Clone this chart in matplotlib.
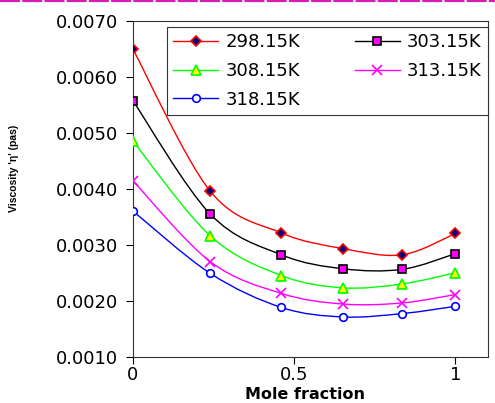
import numpy as np
import matplotlib
matplotlib.use("Agg")
import matplotlib.pyplot as plt
from matplotlib.path import Path
from matplotlib.patches import PathPatch
from matplotlib.lines import Line2D
from matplotlib.ticker import FormatStrFormatter
from matplotlib import font_manager

# ---- data ----
mole_fraction = [0.0, 0.239, 0.46, 0.652, 0.835, 1.0]
temps = ["298.15K", "303.15K", "308.15K", "313.15K", "318.15K"]
visc_298 = [0.00649, 0.00396, 0.00321, 0.00293, 0.00282, 0.00320]
visc_303 = [0.00557, 0.00355, 0.00282, 0.00257, 0.00256, 0.00284]
visc_308 = [0.00485, 0.00316, 0.00245, 0.00223, 0.00230, 0.00250]
visc_313 = [0.00414, 0.00270, 0.00213, 0.00194, 0.00196, 0.00211]
visc_318 = [0.00360, 0.00249, 0.00188, 0.00171, 0.00177, 0.00190]
y_ticks = [0.001, 0.002, 0.003, 0.004, 0.005, 0.006, 0.007]
x_ticks = [0, 0.5, 1]

series = [visc_298, visc_303, visc_308, visc_313, visc_318]
styles = [
    dict(color="#ff0000", marker="D", mfc="#000080", mec="#ff0000", ms=4.8),
    dict(color="#000000", marker="s", mfc="#ff00ff", mec="#000000", ms=5.5),
    dict(color="#00ff00", marker="^", mfc="#ffff00", mec="#00ff00", ms=6.5),
    dict(color="#ff00ff", marker="x", mfc="#ff00ff", mec="#ff00ff", ms=6.5),
    dict(color="#0000ff", marker="o", mfc="white", mec="#0000ff", ms=5.5),
]

plt.rcParams['font.family'] = ['DejaVu Sans']
avail = {f.name for f in font_manager.fontManager.ttflist}
narrow = 'Liberation Sans Narrow' if 'Liberation Sans Narrow' in avail else 'Liberation Sans'

fig = plt.figure(figsize=(4.95, 4.03), dpi=100)
ax = fig.add_axes([133/495, 1-356.7/403, (487.7-133)/495, (356.7-20.7)/403])


def smooth_path(xs, ys):
    P = np.column_stack([xs, ys])
    n = len(P)
    verts = [P[0]]
    codes = [Path.MOVETO]
    for i in range(n-1):
        p0 = P[i-1] if i > 0 else P[i]
        p1 = P[i]
        p2 = P[i+1]
        p3 = P[i+2] if i+2 < n else P[i+1]
        c1 = p1 + (p2-p0)/6.0
        c2 = p2 - (p3-p1)/6.0
        verts += [c1, c2, p2]
        codes += [Path.CURVE4]*3
    return Path(verts, codes)


handles = []
for vals, st in zip(series, styles):
    patch = PathPatch(smooth_path(mole_fraction, vals), fill=False,
                      edgecolor=st["color"], lw=1.0, zorder=2)
    ax.add_patch(patch)
    mew = 1.2
    ax.plot(mole_fraction, vals, ls="none", marker=st["marker"],
            mfc=st["mfc"], mec=st["mec"], ms=st["ms"], mew=mew, zorder=3)
    handles.append(Line2D([], [], color=st["color"], lw=1.0, marker=st["marker"],
                          mfc=st["mfc"], mec=st["mec"], ms=st["ms"], mew=mew))

ax.set_xlim(0, 1.1)
ax.set_ylim(0.001, 0.007)
ax.set_xticks(x_ticks)
ax.set_xticklabels(["0", "0.5", "1"])
ax.set_yticks(y_ticks)
ax.yaxis.set_major_formatter(FormatStrFormatter("%.4f"))
ax.tick_params(axis="both", direction="out", length=5, width=0.8, labelsize=13)
ax.tick_params(axis="y", pad=6)
ax.tick_params(axis="x", pad=2)
for s in ax.spines.values():
    s.set_linewidth(0.8)
    s.set_color("#333333")

ax.set_xlabel("Mole fraction", fontsize=11.5, fontweight="bold")
ax.xaxis.set_label_coords((305-133)/(487.7-133), -(394.5-356.7)/336, transform=ax.transAxes)
ax.xaxis.label.set_va("center")
fig.text(14/495, 1-168/403, "Viscosity 'η' (pas)", rotation=90, fontsize=7.5,
         fontweight="bold", ha="center", va="center", family=[narrow, 'DejaVu Sans'])

order = [0, 2, 4, 1, 3]
leg = ax.legend([handles[i] for i in order], [temps[i] for i in order],
                ncol=2, loc="upper left", mode="expand",
                bbox_to_anchor=(166.7/495, 1-115/403, (488-166.7)/495, (115-26.7)/403),
                bbox_transform=fig.transFigure,
                fontsize=13, handlelength=2.5, handletextpad=0.4, columnspacing=1.2,
                labelspacing=0.6, borderpad=0.35, borderaxespad=0, fancybox=False,
                framealpha=1, edgecolor="#333333")
leg.get_frame().set_linewidth(0.8)

fig.add_artist(Line2D([0, 1], [1-1/403, 1-1/403], transform=fig.transFigure,
                      color="#d61fb2", lw=1.6, dashes=(9, 1)))

fig.savefig("out.png", dpi=100)
